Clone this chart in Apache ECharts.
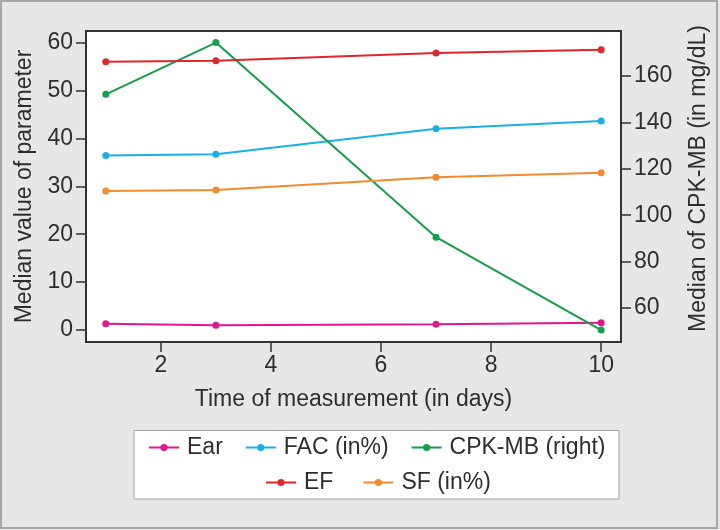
<!DOCTYPE html>
<html>
<head>
<meta charset="utf-8">
<script src="https://cdn.jsdelivr.net/npm/echarts@6/dist/echarts.min.js"></script>
<style>html,body{margin:0;padding:0;background:#e7e7e7;}#c{width:720px;height:530px;}</style>
</head>
<body>
<div id="c"></div>
<script>
var days = [1, 3, 7, 10];
var ear = [1.3, 1.0, 1.2, 1.5];
var fac = [36.4, 36.7, 42.0, 43.6];
var cpk = [152.1, 174.4, 90.5, 50.5];
var ef = [56.0, 56.2, 57.8, 58.5];
var sf = [29.0, 29.2, 31.9, 32.8];
var xTicks = [2, 4, 6, 8, 10];
var yLeftTicks = [0, 10, 20, 30, 40, 50, 60];
var yRightTicks = [60, 80, 100, 120, 140, 160];
var names = ['Ear', 'FAC (in%)', 'CPK-MB (right)', 'EF', 'SF (in%)'];
var colors = ['#e3178c', '#1bafe7', '#139f4c', '#e1262b', '#f28a2f'];

function pairs(v) { return days.map(function (d, i) { return [d, v[i]]; }); }

var FONT = 'Liberation Sans, Arial, sans-serif';
var TXT = '#2e2e2e';
var AX = '#333333';

var chart = echarts.init(document.getElementById('c'), null, { renderer: 'canvas' });

function mkSeries(name, vals, color, yIdx) {
  return {
    name: name, type: 'line', data: pairs(vals), yAxisIndex: yIdx,
    symbol: 'circle', symbolSize: 7, showSymbol: true,
    lineStyle: { color: color, width: 2 },
    itemStyle: { color: color },
    emphasis: { disabled: true }, animation: false
  };
}

var legendCommon = {
  orient: 'horizontal', itemWidth: 30, itemHeight: 9, padding: 0,
  textStyle: { fontFamily: FONT, fontSize: 23, color: TXT, padding: [0, 0, 0, 3] },
  selectedMode: false
};

chart.setOption({
  backgroundColor: '#e7e7e7',
  animation: false,
  grid: { left: 86, top: 31, right: 99, bottom: 188, show: true, backgroundColor: '#ffffff', borderColor: AX, borderWidth: 2 },
  xAxis: {
    type: 'value', min: 0.64, max: 10.36,
    name: 'Time of measurement (in days)', nameLocation: 'middle', nameGap: 46,
    nameTextStyle: { fontFamily: FONT, fontSize: 23, color: TXT },
    axisLine: { show: true, onZero: false, lineStyle: { color: AX, width: 2 } },
    axisTick: { show: true, length: 10, lineStyle: { color: AX, width: 1.5 }, customValues: xTicks },
    axisLabel: { fontFamily: FONT, fontSize: 23, color: TXT, margin: 12, customValues: xTicks },
    splitLine: { show: false }
  },
  yAxis: [{
    type: 'value', min: -2.5, max: 62.4, position: 'left',
    name: 'Median value of parameter', nameLocation: 'middle', nameGap: 50,
    nameTextStyle: { fontFamily: FONT, fontSize: 23, color: TXT },
    axisLine: { show: true, onZero: false, lineStyle: { color: AX, width: 2 } },
    axisTick: { show: true, length: 10, lineStyle: { color: AX, width: 1.5 }, customValues: yLeftTicks },
    axisLabel: { fontFamily: FONT, fontSize: 23, color: TXT, margin: 13, customValues: yLeftTicks },
    splitLine: { show: false }
  }, {
    type: 'value', min: 45.34, max: 179.4, position: 'right',
    name: 'Median of CPK-MB (in mg/dL)', nameLocation: 'middle', nameGap: 66,
    nameTextStyle: { fontFamily: FONT, fontSize: 23, color: TXT, padding: [0, 0, 0, 16] },
    axisLine: { show: true, onZero: false, lineStyle: { color: AX, width: 2 } },
    axisTick: { show: true, length: 10, lineStyle: { color: AX, width: 1.5 }, customValues: yRightTicks },
    axisLabel: { fontFamily: FONT, fontSize: 23, color: TXT, margin: 13, customValues: yRightTicks },
    splitLine: { show: false }
  }],
  legend: [
    Object.assign({}, legendCommon, { data: [names[0], names[1], names[2]], left: 148, top: 436, itemGap: 22 }),
    Object.assign({}, legendCommon, { data: [names[3], names[4]], left: 265, top: 471, itemGap: 29 })
  ],
  graphic: [
    { type: 'rect', z: -10, shape: { x: 134, y: 430.5, width: 485, height: 68.5 }, style: { fill: '#ffffff', stroke: '#a3a3a3', lineWidth: 1 }, silent: true },
    { type: 'rect', z: -10, shape: { x: 1, y: 1, width: 716, height: 527 }, style: { fill: 'transparent', stroke: '#a8a8a8', lineWidth: 2 }, silent: true }
  ],
  series: [
    mkSeries(names[0], ear, colors[0], 0),
    mkSeries(names[1], fac, colors[1], 0),
    mkSeries(names[2], cpk, colors[2], 1),
    mkSeries(names[3], ef, colors[3], 0),
    mkSeries(names[4], sf, colors[4], 0)
  ]
});
</script>
</body>
</html>
